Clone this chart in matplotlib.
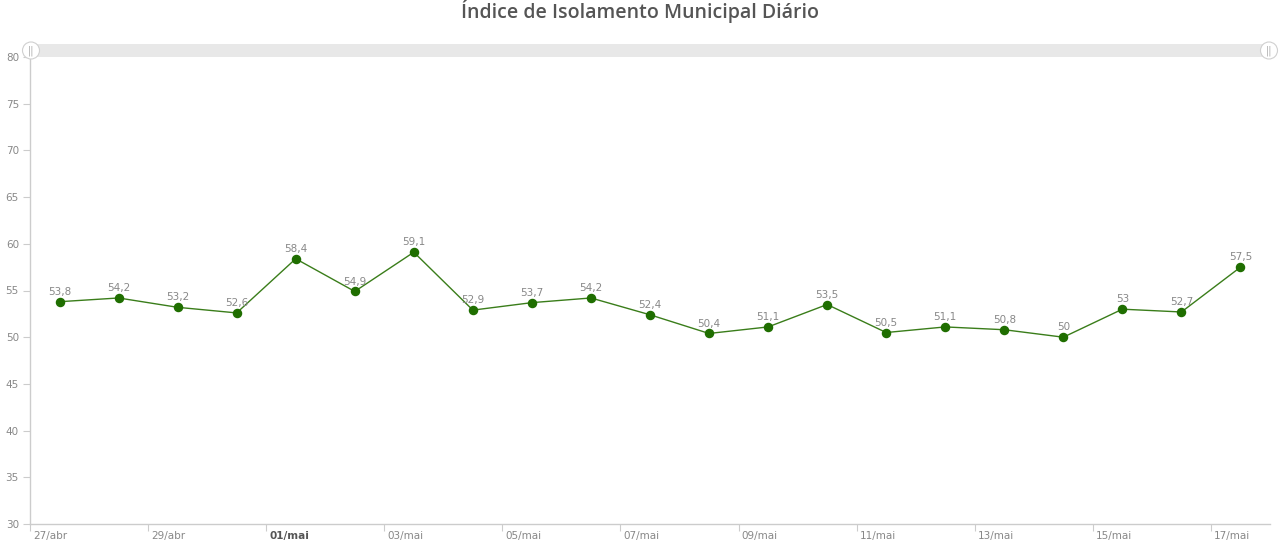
import matplotlib

matplotlib.use("Agg")
import matplotlib.pyplot as plt  # noqa: E402
from matplotlib.patches import Rectangle, Circle  # noqa: E402

# Daily municipal isolation index, 27/abr .. 17/mai
days = ["27/abr", "28/abr", "29/abr", "30/abr", "01/mai", "02/mai", "03/mai",
        "04/mai", "05/mai", "06/mai", "07/mai", "08/mai", "09/mai", "10/mai",
        "11/mai", "12/mai", "13/mai", "14/mai", "15/mai", "16/mai", "17/mai"]
values = [53.8, 54.2, 53.2, 52.6, 58.4, 54.9, 59.1, 52.9, 53.7, 54.2, 52.4,
          50.4, 51.1, 53.5, 50.5, 51.1, 50.8, 50.0, 53.0, 52.7, 57.5]
yticks = [30, 35, 40, 45, 50, 55, 60, 65, 70, 75, 80]

GREEN = "#1f6e00"
GREY = "#888888"
AXIS = "#cccccc"

W, H = 1280, 548
fig = plt.figure(figsize=(W / 100, H / 100), dpi=100)
ax = fig.add_axes([30 / W, 1 - 524 / H, 1240 / W, (524 - 57) / H])

x = list(range(len(days)))
ax.plot(x, values, color="#3a7d1a", lw=1, zorder=2)
ax.scatter(x, values, s=34, color=GREEN, zorder=3)
for xi, v in zip(x, values):
    lbl = f"{v:g}".replace(".", ",")
    ax.annotate(lbl, (xi, v), xytext=(0, 3.5), textcoords="offset points",
                ha="center", va="bottom", fontsize=7.5, color=GREY)

ax.set_xlim(-0.5, len(days) - 0.5)
ax.set_ylim(30, 80)
ax.set_yticks(yticks)
ax.tick_params(axis="y", length=5, color=AXIS, labelsize=7.5, labelcolor=GREY, pad=3)

# day ticks every two days, at start of day, labels to the right of the tick
tick_pos = [i - 0.5 for i in range(0, len(days), 2)]
ax.set_xticks(tick_pos)
ax.set_xticklabels([])
ax.tick_params(axis="x", length=5, color=AXIS)
for i in range(0, len(days), 2):
    bold = days[i] == "01/mai"
    ax.text(i - 0.5 + 0.05, -0.016, days[i], transform=ax.get_xaxis_transform(),
            ha="left", va="top", fontsize=7.5,
            color="#555555" if bold else GREY,
            fontweight="bold" if bold else "normal")

for s in ["top", "right"]:
    ax.spines[s].set_visible(False)
for s in ["left", "bottom"]:
    ax.spines[s].set_color(AXIS)
    ax.spines[s].set_linewidth(1)

# scrollbar band above the plot
y0 = 1 - 57 / H
bh = 13 / H
fig.patches.append(Rectangle((30 / W, y0), 1240 / W, bh, transform=fig.transFigure,
                             facecolor="#e8e8e8", edgecolor="none", zorder=1))
for gx in (31, 1269):
    cx, cy = gx / W, y0 + bh / 2
    grip = Circle((gx, H - 50.5), 8.5, transform=None, facecolor="white",
                  edgecolor="#d0d0d0", lw=0.8, zorder=3)
    fig.patches.append(grip)
    fig.text(cx, cy, "||", ha="center", va="center", fontsize=7, color="#aaaaaa",
             zorder=4)

fig.text(0.5, 1 - 11 / H, "Índice de Isolamento Municipal Diário", ha="center",
         va="center", fontsize=14, fontweight="semibold", color="#555555",
         family="Open Sans")

fig.savefig("out.png", dpi=100)
